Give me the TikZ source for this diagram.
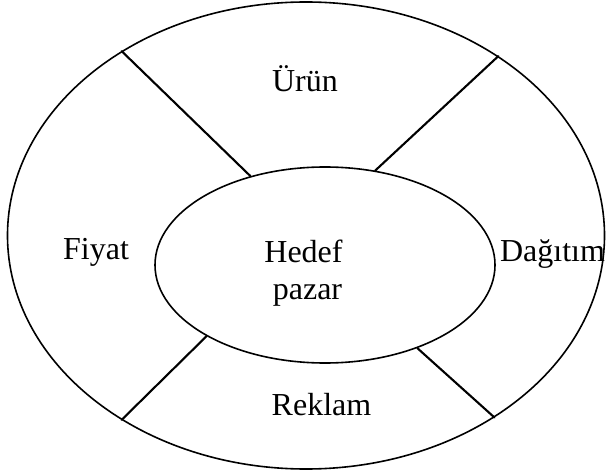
\documentclass[tikz,border=0pt]{standalone}
\usepackage{fontspec}
\setmainfont{Liberation Serif}
\usetikzlibrary{shapes.geometric}
\begin{document}
\begin{tikzpicture}[x=1bp,y=-1bp,
  ring/.style={draw,shape=ellipse,inner sep=0pt,line width=1.6bp},
  spoke/.style={line width=2.1bp,line cap=round},
  lbl/.style={anchor=base,inner sep=0pt,font=\fontsize{32bp}{38bp}\selectfont}]
  \useasboundingbox (0,0) rectangle (606,475);
  % outer and inner ellipses
  \node[ring,minimum width=597bp,minimum height=467bp] (outer) at (306,235.5) {};
  \node[ring,minimum width=340bp,minimum height=196bp] (inner) at (325,265) {};
  % spokes dividing the ring into four sectors
  \draw[spoke] (outer.135.1) -- (inner.130.6);
  \draw[spoke] (outer.43.7) -- (inner.62);
  \draw[spoke] (outer.225.2) -- (inner.211.4);
  \draw[spoke] (outer.316) -- (inner.318.9);
  % labels
  \node[lbl] (urun) at (305,92) {Ürün};
  \node[lbl] (fiyat) at (96,260) {Fiyat};
  \node[lbl] (hedef) at (303.5,263) {Hedef};
  \node[lbl] (pazar) at (307.5,300) {pazar};
  \node[lbl] (dagitim) at (552.5,262) {Dağıtım};
  \node[lbl] (reklam) at (321.5,415) {Reklam};
\end{tikzpicture}
\end{document}
